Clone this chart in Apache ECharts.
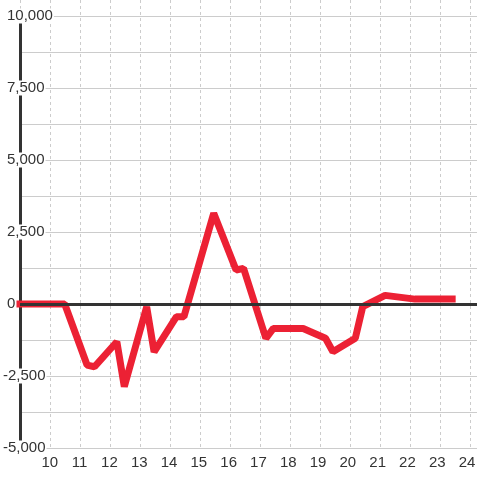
<!DOCTYPE html>
<html>
<head>
<meta charset="utf-8">
<script src="https://cdn.jsdelivr.net/npm/echarts@6/dist/echarts.min.js"></script>
<style>html,body{margin:0;padding:0;background:#fff}#c{width:480px;height:480px}</style>
</head>
<body>
<div id="c"></div>
<script>
var hours = [9, 10.5, 11.25, 11.5, 12.25, 12.5, 13.25, 13.5, 14.25, 14.5, 15.5, 16.25, 16.5, 17.25, 17.5, 18.5, 19.25, 19.5, 20.25, 20.5, 21.25, 22.25, 23.5];
var values = [0, 0, -2120, -2180, -1310, -2870, -100, -1660, -440, -440, 3150, 1180, 1240, -1190, -850, -850, -1190, -1660, -1190, -90, 300, 170, 170];
var xTickLabels = [10, 11, 12, 13, 14, 15, 16, 17, 18, 19, 20, 21, 22, 23, 24];
var yTickLabels = [-5000, -2500, 0, 2500, 5000, 7500, 10000];

var font = 'Liberation Sans';
var chart = echarts.init(document.getElementById('c'), null, {renderer: 'canvas'});
function fmtNum(v) {
  var s = Math.abs(v).toString().replace(/\B(?=(\d{3})+(?!\d))/g, ',');
  return (v < 0 ? '-' : '') + s;
}
chart.setOption({
  animation: false,
  backgroundColor: '#fff',
  grid: [
    {left: 20, right: 0, top: 0, bottom: 32},
    {left: 20, right: 0, top: 16, bottom: 32}
  ],
  xAxis: [
    {gridIndex: 0, type: 'value', min: 9, max: 24 + 1/3, interval: 1,
     axisLine: {show: false}, axisTick: {show: false}, axisLabel: {show: false},
     splitLine: {show: true, lineStyle: {color: '#ccc', width: 1, type: [3, 3]}}},
    {gridIndex: 1, type: 'value', min: 9, max: 24 + 1/3, interval: 1,
     axisLine: {show: false}, axisTick: {show: false}, splitLine: {show: false},
     axisLabel: {show: true, margin: 7, color: '#333', fontFamily: font, fontSize: 15,
       formatter: function (v) { return xTickLabels.indexOf(v) >= 0 ? String(v) : ''; }}}
  ],
  yAxis: [
    {gridIndex: 0, type: 'value', min: 0, max: 1, show: false},
    {gridIndex: 1, type: 'value', min: -5000, max: 10000, interval: 1250,
     axisLine: {show: true, lineStyle: {color: '#333', width: 3}},
     axisTick: {show: false},
     splitLine: {show: true, lineStyle: {color: '#ccc', width: 1}},
     axisLabel: {show: true, align: 'left', margin: 17, color: '#333', fontFamily: font, fontSize: 15,
       backgroundColor: '#fff', padding: [0, 1, 0, 0],
       rich: {s: {width: 4, fontSize: 15, fontFamily: font}},
       formatter: function (v) {
         if (yTickLabels.indexOf(v) < 0) return '';
         return v < 0 ? fmtNum(v) : '{s| }' + fmtNum(v);
       }}}
  ],
  series: [
    {type: 'line', xAxisIndex: 1, yAxisIndex: 1, data: [], silent: true,
     markLine: {silent: true, symbol: ['none', 'none'], label: {show: false},
       lineStyle: {color: '#333', width: 3, type: 'solid'},
       data: [{yAxis: 0}]}},
    {type: 'line', xAxisIndex: 1, yAxisIndex: 1, symbol: 'none', clip: false,
     lineStyle: {color: '#ec2134', width: 7, cap: 'square'},
     data: hours.map(function (h, i) { return [h, values[i]]; })}
  ]
});
</script>
</body>
</html>
